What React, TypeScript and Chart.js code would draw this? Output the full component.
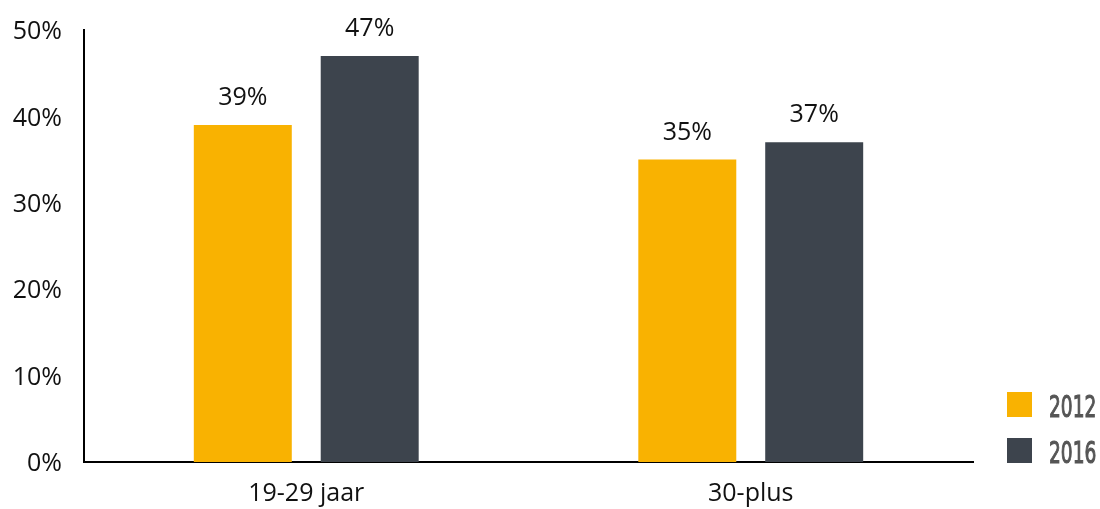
import React, { useEffect, useRef } from "react";
import { Chart, registerables } from "chart.js";

Chart.register(...registerables);

const categories = ["19-29 jaar", "30-plus"];
const series2012 = [39, 35];
const series2016 = [47, 37];
const seriesLabels = ["2012", "2016"];
const colors = ["#F9B201", "#3D444D"];
const yTicks = [0, 10, 20, 30, 40, 50];

const TICK_FONT = "'Open Sans', 'DejaVu Sans', sans-serif";
const LEGEND_FONT = "'DejaVu Sans', sans-serif";

const valueLabelPlugin = {
  id: "valueLabels",
  afterDatasetsDraw(chart: any) {
    const ctx = chart.ctx;
    ctx.save();
    ctx.font = `25px ${TICK_FONT}`;
    ctx.fillStyle = "#111111";
    ctx.textAlign = "center";
    ctx.textBaseline = "middle";
    chart.data.datasets.forEach((ds: any, i: number) => {
      const meta = chart.getDatasetMeta(i);
      meta.data.forEach((bar: any, j: number) => {
        ctx.fillText(ds.data[j] + "%", bar.x, bar.y - 27);
      });
    });
    ctx.restore();
  },
};

const legendPlugin = {
  id: "customLegend",
  afterDraw(chart: any) {
    const ctx = chart.ctx;
    ctx.save();
    const boxX = 1007;
    const startY = 392;
    const step = 46;
    chart.data.datasets.forEach((ds: any, i: number) => {
      const y = startY + i * step;
      ctx.fillStyle = ds.backgroundColor;
      ctx.fillRect(boxX, y, 25, 25);
      ctx.save();
      ctx.fillStyle = "#555555";
      ctx.strokeStyle = "#555555";
      ctx.lineWidth = 1.2;
      ctx.font = `31px ${LEGEND_FONT}`;
      ctx.textAlign = "left";
      ctx.textBaseline = "alphabetic";
      ctx.translate(boxX + 42, y + 25);
      ctx.scale(0.6, 1);
      ctx.fillText(ds.label, 0, 0);
      ctx.strokeText(ds.label, 0, 0);
      ctx.restore();
    });
    ctx.restore();
  },
};

export default function App() {
  const ref = useRef<HTMLCanvasElement>(null);
  useEffect(() => {
    if (!ref.current) return;
    const chart = new Chart(ref.current, {
      type: "bar",
      data: {
        labels: categories,
        datasets: [
          { label: seriesLabels[0], data: series2012, backgroundColor: colors[0] },
          { label: seriesLabels[1], data: series2016, backgroundColor: colors[1] },
        ],
      },
      options: {
        animation: false,
        responsive: false,
        maintainAspectRatio: false,
        layout: { padding: { top: 30, right: 127, left: 0, bottom: 0 } },
        datasets: {
          bar: { categoryPercentage: 0.571, barPercentage: 0.772 },
        },
        plugins: {
          legend: { display: false },
          tooltip: { enabled: false },
        },
        scales: {
          x: {
            grid: { display: false, drawTicks: false },
            border: { display: true, color: "#000000", width: 2 },
            ticks: {
              color: "#111111",
              font: { family: TICK_FONT, size: 25 },
              padding: 17,
            },
            afterFit(scale: any) {
              scale.height = 47;
              scale.paddingLeft = 0;
              scale.paddingRight = 0;
            },
          },
          y: {
            min: 0,
            max: 50,
            grid: { display: false, drawTicks: false },
            border: { display: true, color: "#000000", width: 2 },
            afterBuildTicks(scale: any) {
              scale.ticks = yTicks.map((v) => ({ value: v }));
            },
            ticks: {
              color: "#111111",
              font: { family: TICK_FONT, size: 25 },
              padding: 22,
              labelOffset: 2,
              callback: (v: any) => v + "%",
            },
            afterFit(scale: any) {
              scale.width = 84;
              scale.paddingTop = 0;
              scale.paddingBottom = 0;
            },
          },
        },
      },
      plugins: [valueLabelPlugin, legendPlugin],
    });
    return () => chart.destroy();
  }, []);
  return (
    <div style={{ position: "fixed", left: 0, top: 0, width: 1100, height: 509, background: "#fff" }}>
      <canvas ref={ref} width={1100} height={509} />
    </div>
  );
}
